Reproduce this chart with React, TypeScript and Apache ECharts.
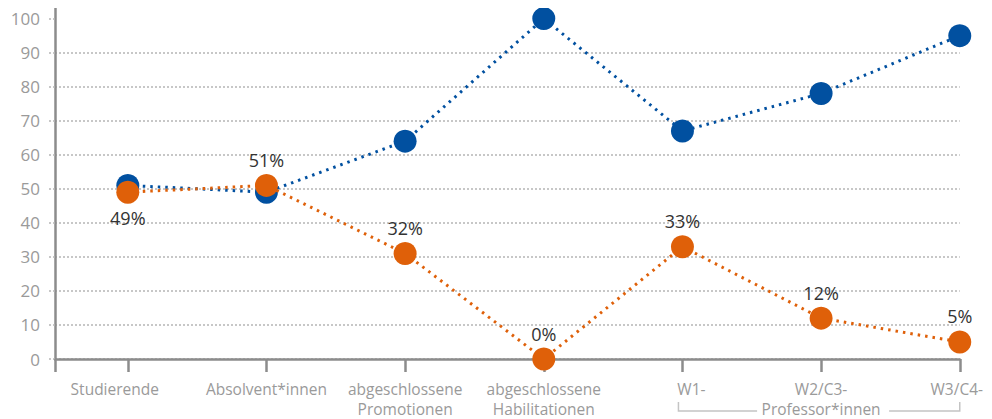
import React, { useEffect, useRef } from "react";
import * as echarts from "echarts";

const categories = [
  "Studierende",
  "Absolvent*innen",
  "abgeschlossene\nPromotionen",
  "abgeschlossene\nHabilitationen",
  "W1-",
  "W2/C3-\nProfessor*innen",
  "W3/C4-",
];
const blueValues = [51, 49, 64, 100, 67, 78, 95];
const orangeValues = [49, 51, 31, 0, 33, 12, 5];
const orangeLabels = ["49%", "51%", "32%", "0%", "33%", "12%", "5%"];
const orangeLabelPos = ["bottom", "top", "top", "top", "top", "top", "top"];
const yTicks = [0, 10, 20, 30, 40, 50, 60, 70, 80, 90, 100];

// horizontal nudges of individual category labels (px, + = right)
const labelShift = [-13, 0, 0, 0, 9, 0, -3];

const BLUE = "#0150A0";
const ORANGE = "#DF6009";
const FONT = "Open Sans";

export default function App() {
  const ref = useRef<HTMLDivElement>(null);
  useEffect(() => {
    if (!ref.current) return;
    const chart = echarts.init(ref.current, undefined, { renderer: "svg" });
    const xMin = -0.525;
    const rich: Record<string, any> = {};
    labelShift.forEach((s, i) => {
      rich["c" + i] = {
        color: "#9a9a9a",
        fontFamily: FONT,
        fontSize: 15.5,
        lineHeight: 20,
        padding: s >= 0 ? [0, 0, 0, 2 * s] : [0, -2 * s, 0, 0],
      };
    });
    chart.setOption({
      animation: false,
      grid: { left: 55, right: 30, top: 5, bottom: 59, containLabel: false },
      xAxis: {
        type: "value",
        min: xMin,
        max: categories.length - 1,
        axisLine: { onZero: false, lineStyle: { color: "#8c8c8c", width: 2.5 } },
        axisTick: {
          customValues: [xMin, ...categories.map((_, i) => i)],
          length: 13,
          lineStyle: { color: "#8c8c8c", width: 2.5 },
        },
        axisLabel: {
          customValues: categories.map((_, i) => i),
          formatter: (v: number) => {
            const i = Math.round(v);
            const c = categories[i];
            if (c === undefined) return "";
            return c
              .split("\n")
              .map((line) => `{c${i}|${line}}`)
              .join("\n");
          },
          rich,
          color: "#9a9a9a",
          fontFamily: FONT,
          fontSize: 15.5,
          lineHeight: 20,
          margin: 20,
        },
        splitLine: { show: false },
      },
      yAxis: {
        type: "value",
        min: 0,
        max: 104,
        axisLine: { show: true, onZero: false, lineStyle: { color: "#8c8c8c", width: 2.5 } },
        axisTick: {
          show: true,
          customValues: yTicks,
          length: 6,
          lineStyle: { color: "#b5b5b5", width: 1.5, type: [2, 2] },
        },
        axisLabel: {
          customValues: yTicks,
          color: "#9a9a9a",
          fontFamily: FONT,
          fontSize: 17,
          margin: 15,
        },
        splitLine: {
          show: true,
          showMaxLine: false,
          lineStyle: { color: "#b5b5b5", width: 1.5, type: [2, 2] },
        },
      },
      series: [
        {
          type: "line",
          data: blueValues.map((v, i) => [i, v]),
          symbol: "circle",
          symbolSize: 23,
          itemStyle: { color: BLUE },
          lineStyle: { color: BLUE, width: 3, type: [2.5, 5] },
          z: 2,
        },
        {
          type: "line",
          data: orangeValues.map((v, i) => ({
            value: [i, v],
            label: {
              show: true,
              position: orangeLabelPos[i],
              formatter: orangeLabels[i],
            },
          })),
          symbol: "circle",
          symbolSize: 23,
          itemStyle: { color: ORANGE },
          lineStyle: { color: ORANGE, width: 3, type: [2.5, 5] },
          label: {
            show: true,
            color: "#333333",
            fontFamily: FONT,
            fontSize: 18,
            distance: 5,
          },
          z: 3,
        },
      ],
    });

    const p = (i: number) => chart.convertToPixel({ gridIndex: 0 }, [i, 0]) as number[];
    const w1 = p(4);
    const w2 = p(5);
    const w3 = p(6);
    const yTop = w1[1] + 43;
    const yBot = w1[1] + 52;
    const bracketStyle = { stroke: "#c4c4c4", lineWidth: 1.5 };
    chart.setOption({
      graphic: [
        {
          type: "polyline",
          shape: { points: [[w1[0] - 4, yTop], [w1[0] - 4, yBot], [w2[0] - 64, yBot]] },
          style: { ...bracketStyle, fill: null },
          silent: true,
        },
        {
          type: "polyline",
          shape: { points: [[w2[0] + 68, yBot], [w3[0], yBot], [w3[0], yTop]] },
          style: { ...bracketStyle, fill: null },
          silent: true,
        },
      ],
    });

    return () => chart.dispose();
  }, []);
  return <div ref={ref} style={{ width: 992, height: 419, marginLeft: -8, marginTop: -8 }} />;
}
